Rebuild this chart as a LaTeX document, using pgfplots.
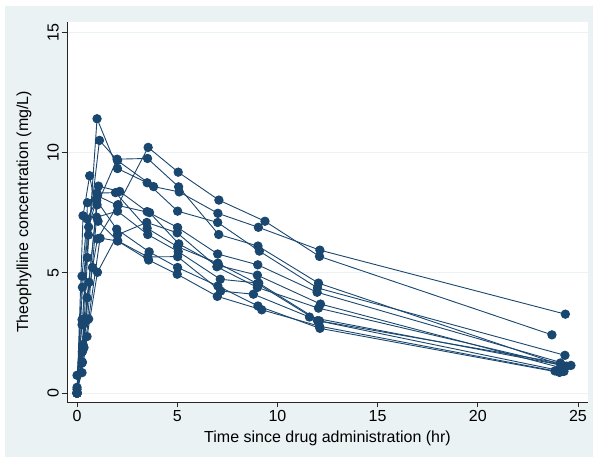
\documentclass[border=0pt]{standalone}
\usepackage{fontspec}
\setmainfont{Liberation Sans}
\usepackage{pgfplots}
\pgfplotsset{compat=1.18}
\definecolor{stbg}{RGB}{234,242,243}
\definecolor{stnavy}{RGB}{26,71,111}
\begin{document}
\fontsize{16}{19}\selectfont
\begin{tikzpicture}
\fill[white] (-67pt,-61pt) rectangle (531pt,402pt);
\useasboundingbox (-67pt,-61pt) rectangle (531pt,402pt);
\fill[stbg] (-62pt,-55pt) rectangle (526pt,396pt);
\begin{axis}[at={(0pt,0pt)}, anchor=south west, scale only axis,
  width=521pt, height=380pt,
  xmin=-0.5, xmax=25.5, ymin=-0.37, ymax=15.42,
  axis background/.style={fill=white},
  axis x line*=bottom, axis y line*=left,
  axis line style={-, black!85, line width=0.8pt},
  xtick={0,5,10,15,20,25}, ytick={0,5,10,15},
  tick align=outside, major tick length=5pt,
  tick style={black!85, line width=0.8pt},
  ymajorgrids, grid style={stbg, line width=1pt},
  /pgf/number format/assume math mode=true,
  ticklabel style={font=\fontsize{16}{19}\selectfont},
  yticklabel style={rotate=90, anchor=south, inner sep=3pt},
  xticklabel style={anchor=north, inner sep=3pt},
  xlabel={Time since drug administration (hr)},
  ylabel={Theophylline concentration (mg/L)},
  label style={font=\fontsize{16}{19}\selectfont},
  every axis x label/.style={at={(axis description cs:0.5,0)}, anchor=center, yshift=-36pt},
  every axis y label/.style={at={(axis description cs:-0.0825,0.5)}, anchor=center, rotate=90},
  cycle list={stnavy, solid, line width=0.9pt, mark=*, mark size=4.2pt, mark options={solid, fill=stnavy, draw=stnavy}\\},
  clip=false]
\addplot coordinates {(0,0.74) (0.25,2.84) (0.57,6.57) (1.12,10.50) (2.02,9.66) (3.82,8.58) (5.10,8.36) (7.03,7.47) (9.05,6.89) (12.12,5.94) (24.37,3.28)};
\addplot coordinates {(0,0.00) (0.27,1.72) (0.52,7.91) (1.00,8.31) (1.92,8.33) (3.50,6.85) (5.02,6.08) (7.03,5.40) (9.00,4.55) (12.00,3.01) (24.30,0.90)};
\addplot coordinates {(0,0.00) (0.27,4.40) (0.58,6.90) (1.02,8.20) (2.02,7.80) (3.62,7.50) (5.08,6.20) (7.07,5.30) (9.00,4.90) (12.15,3.70) (24.17,1.05)};
\addplot coordinates {(0,0.00) (0.35,1.89) (0.60,4.60) (1.07,8.60) (2.13,8.38) (3.50,7.54) (5.02,6.88) (7.02,5.78) (9.02,5.33) (11.98,4.19) (24.65,1.15)};
\addplot coordinates {(0,0.00) (0.30,2.02) (0.52,5.63) (1.00,11.40) (2.02,9.33) (3.50,8.74) (5.02,7.56) (7.02,7.09) (9.10,5.90) (12.00,4.37) (24.35,1.57)};
\addplot coordinates {(0,0.00) (0.27,1.29) (0.58,3.08) (1.15,6.44) (2.03,6.32) (3.57,5.53) (5.00,4.94) (7.00,4.02) (9.22,3.46) (12.10,2.78) (23.85,0.92)};
\addplot coordinates {(0,0.15) (0.25,0.85) (0.50,2.35) (1.02,5.02) (2.02,6.58) (3.48,7.09) (5.00,6.66) (6.98,5.25) (9.00,4.39) (12.05,3.53) (24.22,1.15)};
\addplot coordinates {(0,0.00) (0.25,3.05) (0.52,3.05) (0.98,7.31) (2.02,7.56) (3.53,6.59) (5.05,5.88) (7.15,4.73) (9.07,4.57) (12.10,3.00) (24.12,1.25)};
\addplot coordinates {(0,0.00) (0.30,7.37) (0.63,9.03) (1.05,7.14) (2.02,6.33) (3.53,5.66) (5.02,5.67) (7.17,4.24) (8.80,4.11) (11.60,3.16) (24.43,1.12)};
\addplot coordinates {(0,0.24) (0.37,2.89) (0.77,5.22) (1.02,6.41) (2.05,7.83) (3.55,10.21) (5.05,9.18) (7.08,8.02) (9.38,7.14) (12.10,5.68) (23.70,2.42)};
\addplot coordinates {(0,0.00) (0.25,4.86) (0.50,7.24) (0.98,8.00) (1.98,6.81) (3.60,5.87) (5.02,5.22) (7.03,4.45) (9.03,3.62) (12.12,2.69) (24.08,0.86)};
\addplot coordinates {(0,0.00) (0.25,1.25) (0.50,3.96) (1.00,7.82) (2.00,9.72) (3.52,9.75) (5.07,8.57) (7.07,6.59) (9.03,6.11) (12.05,4.57) (24.15,1.17)};
\end{axis}
\end{tikzpicture}
\end{document}
